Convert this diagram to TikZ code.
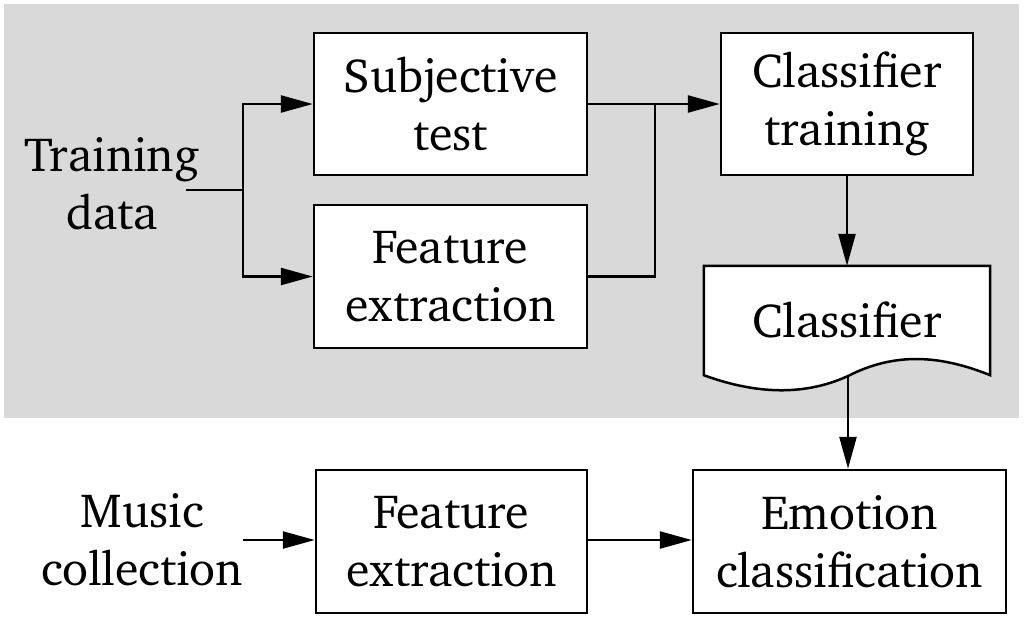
\documentclass[tikz,border=0pt]{standalone}
\usepackage[T1]{fontenc}
\usepackage{charter}
\usetikzlibrary{arrows.meta}
\definecolor{bggray}{RGB}{217,217,217}
\tikzset{
  box/.style={draw=black, fill=white, line width=2.5pt, align=center, inner sep=0pt},
  lbl/.style={align=center, inner sep=0pt},
  conn/.style={line width=2.5pt},
  arr/.style={line width=2.5pt, -{Triangle[length=32pt,width=17pt]}},
}
\begin{document}
\begin{tikzpicture}[x=1pt,y=-1pt, font=\fontsize{48}{58}\selectfont]
\useasboundingbox (0,0) rectangle (1024,622);
\fill[white] (0,0) rectangle (1024,622);
\fill[bggray] (4,4) rectangle (1019,418);

\node[box, minimum width=273pt, minimum height=142pt] (st) at (450.5,104) {Subjective\\test};
\node[box, minimum width=273pt, minimum height=143pt] (fe1) at (450.5,276.5) {Feature\\extraction};
\node[box, minimum width=252pt, minimum height=142pt] (ct) at (847,104) {Classifier\\training};
\node[lbl, minimum width=286pt, minimum height=109pt] (cl) at (847,320.5) {};
\coordinate (clb) at (848,376);
\filldraw[fill=white, draw=black, line width=2.5pt, line join=miter]
  (cl.north west) -- (cl.north east) -- (cl.south east)
  .. controls (940,355) and (895,352) .. (clb)
  .. controls (800,398) and (750,392) .. (cl.south west) -- cycle;
\node[lbl] (cltext) at (847,320) {Classifier};
\node[box, minimum width=271pt, minimum height=143pt] (fe2) at (451.5,541.5) {Feature\\extraction};
\node[box, minimum width=313pt, minimum height=143pt] (ec) at (849.5,541.5) {Emotion\\classification};
\node[lbl] (td) at (112,184) {Training\\data};
\node[lbl] (mc) at (142,540) {Music\\collection};

\coordinate (tdo) at (186,190);
\coordinate (split) at (243,190);
\coordinate (join) at (655,104);
\coordinate (mco) at (243,540);

\draw[conn] (tdo) -- (split);
\draw[arr] (split) |- (st.west);
\draw[arr] (split) |- (fe1.west);
\draw[arr] (st.east) -- (ct.west);
\draw[conn] (fe1.east) -| (join);
\draw[arr] (ct.south) -- (cl.north);
\draw[arr] (clb) -- (ec.north -| clb);
\draw[arr] (mco) -- (fe2.west |- mco);
\draw[arr] (fe2.east |- mco) -- (ec.west |- mco);
\end{tikzpicture}
\end{document}
